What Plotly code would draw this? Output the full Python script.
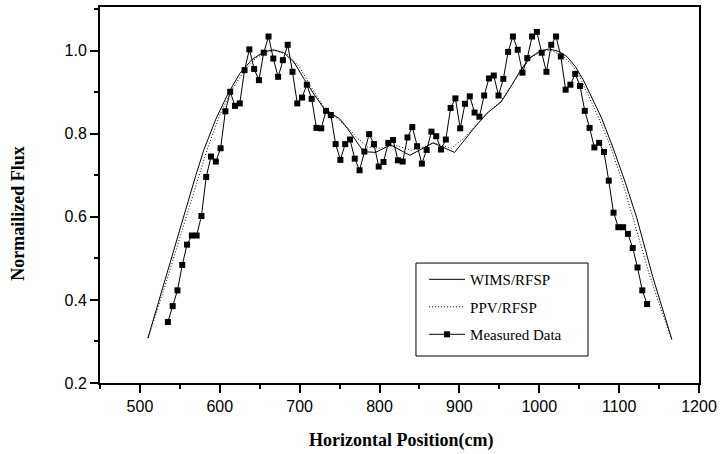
import plotly.graph_objects as go

# measured flux points (cm, normalized)
meas_x = [535, 541, 547, 553, 559, 565, 571, 577, 583, 589, 595, 601, 607, 613, 619, 625, 631, 637, 643, 649,
          655, 661, 667, 673, 679, 685, 691, 697, 703, 709, 715, 721, 727, 733, 739, 745, 751, 757, 763, 769,
          775, 781, 787, 793, 799, 805, 811, 817, 823, 829, 835, 841, 847, 853, 859, 865, 871, 877, 883, 889,
          895, 901, 907, 913, 919, 925, 931, 937, 943, 949, 955, 961, 967, 973, 979, 985, 991, 997, 1003, 1009,
          1015, 1021, 1027, 1033, 1039, 1045, 1051, 1057, 1063, 1069, 1075, 1081, 1087, 1093, 1099, 1105, 1111,
          1117, 1123, 1129, 1135]
meas_y = [0.347, 0.385, 0.423, 0.484, 0.533, 0.555, 0.555, 0.602, 0.696, 0.745, 0.733, 0.765, 0.854, 0.901,
          0.867, 0.873, 0.953, 1.003, 0.956, 0.929, 0.995, 1.034, 0.981, 0.937, 0.977, 1.014, 0.949, 0.873,
          0.887, 0.918, 0.884, 0.814, 0.813, 0.855, 0.845, 0.775, 0.737, 0.775, 0.786, 0.740, 0.712, 0.757,
          0.799, 0.775, 0.721, 0.732, 0.778, 0.785, 0.736, 0.733, 0.791, 0.816, 0.770, 0.728, 0.761, 0.805,
          0.794, 0.762, 0.786, 0.862, 0.885, 0.813, 0.872, 0.890, 0.851, 0.841, 0.892, 0.933, 0.940, 0.892,
          0.932, 0.997, 1.034, 1.002, 0.947, 0.982, 1.034, 1.045, 0.995, 0.949, 1.014, 1.034, 0.986, 0.906,
          0.918, 0.944, 0.915, 0.855, 0.814, 0.767, 0.778, 0.756, 0.687, 0.610, 0.575, 0.575, 0.559, 0.525,
          0.478, 0.423, 0.390]

# WIMS/RFSP calculation
wims_x = [510, 530, 550, 570, 580, 595, 610, 625, 640, 655, 667, 680, 693, 706, 718, 730, 740, 750, 760, 770,
          780, 795, 814, 838, 867, 894, 906, 919, 935, 952, 965, 977, 988, 1000, 1012, 1025, 1035, 1045, 1055,
          1065, 1078, 1092, 1108, 1122, 1142, 1166]
wims_y = [0.308, 0.44, 0.57, 0.70, 0.761, 0.835, 0.895, 0.945, 0.978, 0.997, 1.002, 0.995, 0.972, 0.930,
          0.895, 0.862, 0.848, 0.836, 0.812, 0.785, 0.757, 0.755, 0.773, 0.748, 0.778, 0.755, 0.785, 0.815,
          0.850, 0.876, 0.915, 0.954, 0.982, 0.998, 1.004, 0.998, 0.985, 0.962, 0.930, 0.89, 0.838, 0.768,
          0.681, 0.598, 0.456, 0.305]

# PPV/RFSP calculation
ppv_x = [510, 530, 550, 570, 584, 600, 615, 630, 645, 660, 670, 685, 700, 715, 730, 745, 760, 772, 785, 800,
         820, 840, 855, 868, 890, 906, 920, 935, 952, 965, 977, 990, 1005, 1015, 1028, 1040, 1050, 1062, 1075,
         1090, 1104, 1117, 1138, 1166]
ppv_y = [0.308, 0.425, 0.55, 0.675, 0.761, 0.845, 0.905, 0.950, 0.982, 0.998, 1.0, 0.99, 0.96, 0.91, 0.865,
         0.84, 0.815, 0.79, 0.768, 0.765, 0.772, 0.760, 0.768, 0.778, 0.765, 0.790, 0.820, 0.850, 0.878, 0.915,
         0.952, 0.985, 1.0, 1.0, 0.99, 0.968, 0.94, 0.89, 0.835, 0.765, 0.685, 0.60, 0.46, 0.302]

serif = "Liberation Serif, Times New Roman, serif"
sans = "Liberation Sans, Arial, sans-serif"

fig = go.Figure()
fig.add_trace(go.Scatter(x=wims_x, y=wims_y, mode="lines", name="WIMS/RFSP", legendgroup="a",
                         line=dict(color="black", width=1)))
fig.add_trace(go.Scatter(x=ppv_x, y=ppv_y, mode="lines", name="PPV/RFSP", legendgroup="b",
                         line=dict(color="black", width=1, dash="1px,2px")))
fig.add_trace(go.Scatter(x=meas_x, y=meas_y, mode="lines+markers", name="Measured Data", legendgroup="c",
                         line=dict(color="black", width=1),
                         marker=dict(symbol="square", size=6, color="black")))

axis_common = dict(showline=True, linecolor="black", linewidth=2, mirror=True, showgrid=False, zeroline=False,
                   ticks="outside", ticklen=8, tickwidth=2, tickcolor="black", automargin=False,
                   ticklabeloverflow="allow",
                   tickfont=dict(family=sans, size=16, color="black"))

fig.update_xaxes(range=[450, 1200], tick0=500, dtick=100,
                 minor=dict(ticks="outside", ticklen=4, tickwidth=2, tickcolor="black", tick0=450, dtick=50),
                 **axis_common)
fig.update_yaxes(range=[0.2, 1.105], tick0=0.2, dtick=0.2, tickformat=".1f",
                 minor=dict(ticks="outside", ticklen=4, tickwidth=2, tickcolor="black", tick0=0.2, dtick=0.1),
                 **axis_common)

# axis titles as annotations so they sit where the original ones are
fig.add_annotation(text="<b>Horizontal Position(cm)</b>", xref="paper", yref="paper", x=0.502, y=-0.152,
                   showarrow=False, xanchor="center", yanchor="middle",
                   font=dict(family=serif, size=18, color="black"))
fig.add_annotation(text="<b>Normailized Flux</b>", xref="paper", yref="paper", x=-0.137, y=0.45,
                   showarrow=False, xanchor="center", yanchor="middle", textangle=-90,
                   font=dict(family=serif, size=18, color="black"))

# legend frame drawn separately (wider than plotly's auto box)
fig.add_shape(type="rect", xref="paper", yref="paper", x0=0.5275, x1=0.8147, y0=0.0718, y1=0.319,
              line=dict(color="black", width=1), fillcolor="white", layer="above")

fig.update_layout(
    width=720, height=454,
    margin=dict(l=100, r=21, t=7, b=71),
    plot_bgcolor="white", paper_bgcolor="white",
    font=dict(family=serif, color="black"),
    showlegend=True,
    legend=dict(x=0.541, y=0.319, xanchor="left", yanchor="top",
                bgcolor="rgba(0,0,0,0)", borderwidth=0,
                font=dict(family=serif, size=15, color="black"),
                traceorder="grouped", tracegroupgap=5, itemwidth=36),
)

# drop the default page margin so the figure sits at the window corner
fig.write_html("out.html", config={"displayModeBar": False},
               post_script="document.body.style.margin='0';")
